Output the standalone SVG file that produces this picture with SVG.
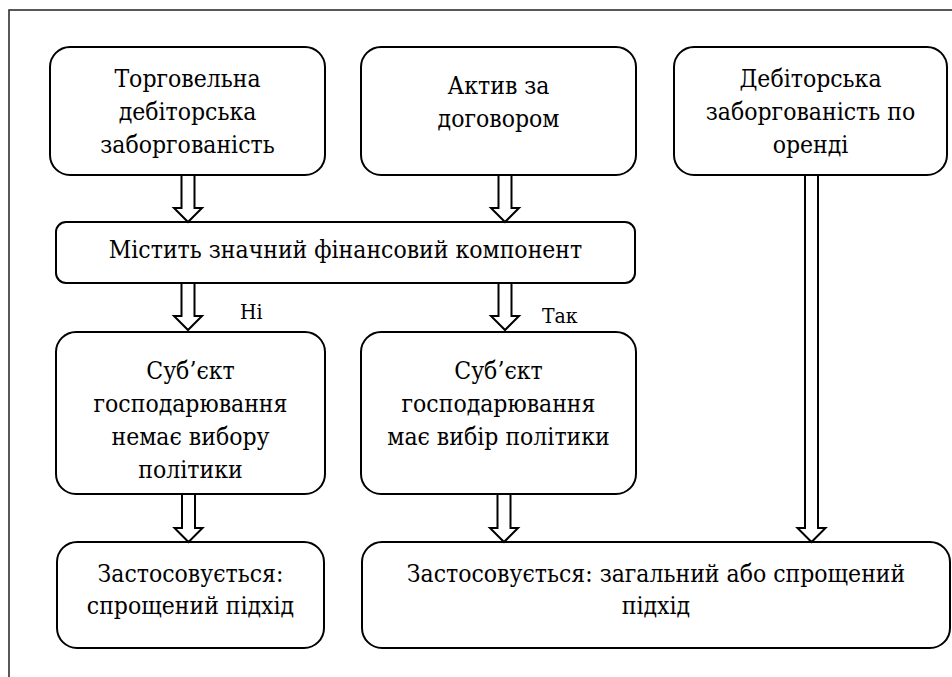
<svg xmlns="http://www.w3.org/2000/svg" width="952" height="677" viewBox="0 0 952 677">
<style>
.frame{fill:none;stroke:#222;stroke-width:1.5}
.box{fill:#fff;stroke:#000;stroke-width:2}
.arr{fill:#fff;stroke:#000;stroke-width:2;stroke-linejoin:miter}
</style>
<rect width="952" height="677" fill="#fff"/>
<path class="frame" d="M9,677 V10 H952"/>
<g font-family="'DejaVu Serif Condensed', 'DejaVu Serif', serif" font-stretch="condensed" font-size="24.5" text-anchor="middle" fill="#000">
<g id="n1"><rect class="box" x="50" y="47" width="275" height="128" rx="20"/>
<text x="187.5" y="87">Торговельна</text><text x="187.5" y="120">дебіторська</text><text x="187.5" y="153">заборгованість</text></g>
<g id="n2"><rect class="box" x="361" y="47" width="275" height="128" rx="20"/>
<text x="498.5" y="94">Актив за</text><text x="498.5" y="127">договором</text></g>
<g id="n3"><rect class="box" x="674" y="47" width="273" height="128" rx="20"/>
<text x="810.5" y="87">Дебіторська</text><text x="810.5" y="120">заборгованість по</text><text x="810.5" y="153">оренді</text></g>
<g id="n4"><rect class="box" x="56" y="222" width="579" height="61" rx="10"/>
<text x="345.5" y="258">Містить значний фінансовий компонент</text></g>
<g id="n5"><rect class="box" x="56" y="332" width="269" height="162" rx="20"/>
<text x="190.5" y="379">Суб’єкт</text><text x="190.5" y="412">господарювання</text><text x="190.5" y="445">немає вибору</text><text x="190.5" y="478">політики</text></g>
<g id="n6"><rect class="box" x="361" y="332" width="275" height="162" rx="20"/>
<text x="498.5" y="379">Суб’єкт</text><text x="498.5" y="412">господарювання</text><text x="498.5" y="445">має вибір політики</text></g>
<g id="n7"><rect class="box" x="57" y="542" width="267" height="106" rx="20"/>
<text x="190.5" y="582">Застосовується:</text><text x="190.5" y="614">спрощений підхід</text></g>
<g id="n8"><rect class="box" x="362" y="542" width="588" height="106" rx="20"/>
<text x="656" y="582">Застосовується: загальний або спрощений</text><text x="656" y="614">підхід</text></g>
<g id="connectors">
<polygon class="arr" points="181.5,175 194.5,175 194.5,208 202,208 188,222 174,208 181.5,208"/>
<polygon class="arr" points="498.5,175 511.5,175 511.5,208 519,208 505,222 491,208 498.5,208"/>
<polygon class="arr" points="181.5,283 194.5,283 194.5,316 202,316 188,330 174,316 181.5,316"/>
<polygon class="arr" points="498.5,283 511.5,283 511.5,316 519,316 505,330 491,316 498.5,316"/>
<polygon class="arr" points="182,494 195,494 195,528 202.5,528 188.5,542 174.5,528 182,528"/>
<polygon class="arr" points="497.5,494 510.5,494 510.5,528 518,528 504,542 490,528 497.5,528"/>
<polygon class="arr" points="805,175 818,175 818,528 825.5,528 811.5,542 797.5,528 805,528"/>
<text x="240" y="319" font-size="21" text-anchor="start">Ні</text>
<text x="542" y="323" font-size="21" text-anchor="start">Так</text>
</g>
</g>
</svg>
